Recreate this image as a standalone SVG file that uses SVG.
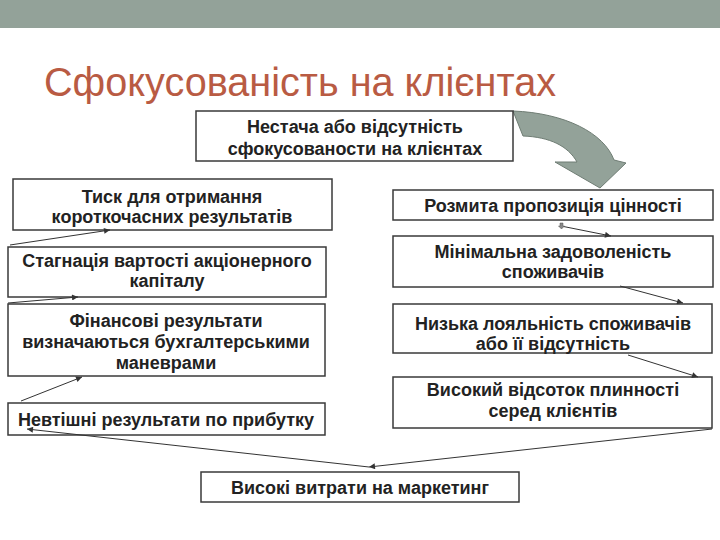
<svg xmlns="http://www.w3.org/2000/svg" width="720" height="540" viewBox="0 0 720 540">
<style>
.box{fill:#fff;stroke:#3a3a3a;stroke-width:1.5}
.t{font-family:"Liberation Sans",Arial,sans-serif;font-weight:bold;font-size:18px;fill:#222;text-anchor:middle}
.c{stroke:#333;stroke-width:1;fill:none;marker-end:url(#ah)}
</style>
<defs>
<marker id="ah" viewBox="0 0 10 10" refX="10" refY="5" markerWidth="8" markerHeight="6" markerUnits="userSpaceOnUse" orient="auto">
<path d="M0,0 L10,5 L0,10 Z" fill="#333"/>
</marker>
</defs>
<rect x="0" y="0" width="720" height="28" fill="#93a299"/>
<text x="44" y="96" font-family="'Liberation Sans',Arial,sans-serif" font-size="40" fill="#b95b43" textLength="512" lengthAdjust="spacingAndGlyphs">Сфокусованість на клієнтах</text>

<g id="curved-arrow">
<path d="M513,111 C565,113 604,133 614,160 L626,163 L600,188 L555,162 L577,162 C568,146 550,137 523,136 Z" fill="#93a299" stroke="#6f7d74" stroke-width="1"/>
</g>

<g id="n-top">
<rect class="box" x="196" y="111" width="317" height="50"/>
<text class="t" x="355" y="133">Нестача або відсутність</text>
<text class="t" x="355" y="155">сфокусованости на клієнтах</text>
</g>
<g id="n-tysk">
<rect class="box" x="13" y="179" width="319" height="51"/>
<text class="t" x="172" y="203">Тиск для отримання</text>
<text class="t" x="172" y="223">короткочасних результатів</text>
</g>
<g id="n-stagn">
<rect class="box" x="8" y="247" width="318" height="50"/>
<text class="t" x="167" y="267">Стагнація вартості акціонерного</text>
<text class="t" x="167" y="287">капіталу</text>
</g>
<g id="n-fin">
<rect class="box" x="8" y="304" width="317" height="72"/>
<text class="t" x="166" y="327">Фінансові результати</text>
<text class="t" x="166" y="348">визначаються бухгалтерськими</text>
<text class="t" x="166" y="369">маневрами</text>
</g>
<g id="n-nevt">
<rect class="box" x="8" y="403" width="317" height="32"/>
<text class="t" x="166" y="426">Невтішні результати по прибутку</text>
</g>
<g id="n-rozm">
<rect class="box" x="393" y="190" width="320" height="30"/>
<text class="t" x="553" y="212">Розмита пропозиція цінності</text>
</g>
<g id="n-min">
<rect class="box" x="393" y="236" width="320" height="51"/>
<text class="t" x="553" y="258">Мінімальна задоволеність</text>
<text class="t" x="553" y="278">споживачів</text>
</g>
<g id="n-low">
<rect class="box" x="393" y="304" width="319" height="49"/>
<text class="t" x="553" y="330">Низька лояльність споживачів</text>
<text class="t" x="553" y="350">або її відсутність</text>
</g>
<g id="n-churn">
<rect class="box" x="393" y="377" width="319" height="51"/>
<text class="t" x="553" y="396">Високий відсоток плинності</text>
<text class="t" x="553" y="417">серед клієнтів</text>
</g>
<g id="n-mkt">
<rect class="box" x="201" y="472" width="318" height="30"/>
<text class="t" x="360" y="494">Високі витрати на маркетинг</text>
</g>

<g id="connectors">
<line class="c" x1="10" y1="245" x2="110" y2="230"/>
<line class="c" x1="8" y1="303" x2="78" y2="297"/>
<line class="c" x1="21" y1="401" x2="82" y2="377"/>
<line class="c" x1="561" y1="226" x2="611" y2="236"/>
<path d="M560,223 h3 v3 h1.5 l-3,3 l-3,-3 h1.5 Z" fill="#888" stroke="#555" stroke-width="0.5"/>
<line class="c" x1="620" y1="286" x2="683" y2="303"/>
<line class="c" x1="628" y1="355" x2="698" y2="377"/>
<line class="c" x1="712" y1="429" x2="369" y2="467"/>
<line class="c" x1="369" y1="467" x2="27" y2="429"/>
</g>
</svg>
